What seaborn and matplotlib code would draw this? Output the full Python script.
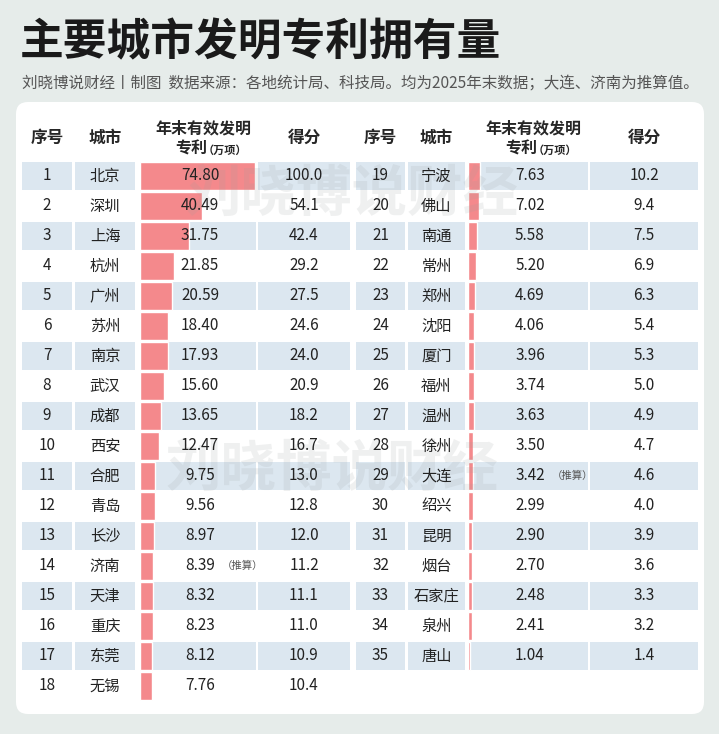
import matplotlib
matplotlib.use("Agg")
import matplotlib.pyplot as plt
import seaborn as sns
import pandas as pd
from matplotlib.patches import FancyBboxPatch, Rectangle

ranks = list(range(1, 36))
cities = ["北京","深圳","上海","杭州","广州","苏州","南京","武汉","成都","西安","合肥","青岛","长沙","济南","天津","重庆","东莞","无锡",
          "宁波","佛山","南通","常州","郑州","沈阳","厦门","福州","温州","徐州","大连","绍兴","昆明","烟台","石家庄","泉州","唐山"]
patents = [74.80,40.49,31.75,21.85,20.59,18.40,17.93,15.60,13.65,12.47,9.75,9.56,8.97,8.39,8.32,8.23,8.12,7.76,
           7.63,7.02,5.58,5.20,4.69,4.06,3.96,3.74,3.63,3.50,3.42,2.99,2.90,2.70,2.48,2.41,1.04]
scores = [100.0,54.1,42.4,29.2,27.5,24.6,24.0,20.9,18.2,16.7,13.0,12.8,12.0,11.2,11.1,11.0,10.9,10.4,
          10.2,9.4,7.5,6.9,6.3,5.4,5.3,5.0,4.9,4.7,4.6,4.0,3.9,3.6,3.3,3.2,1.4]
estimated = {"济南", "大连"}

sns.set_theme(style="white")
plt.rcParams['font.family'] = ['Noto Sans CJK SC', 'DejaVu Sans']

W, H = 719, 734
fig = plt.figure(figsize=(W/100, H/100), dpi=100)
fig.patch.set_facecolor("#e6ecea")

def pix_axes(z):
    a = fig.add_axes([0, 0, 1, 1])
    a.set_xlim(0, W); a.set_ylim(H, 0); a.axis("off")
    a.patch.set_alpha(0); a.set_zorder(z)
    return a

ax = pix_axes(1)    # background: panel and bands
tax = pix_axes(3)   # texts on top

tax.text(20, 42, "主要城市发明专利拥有量", fontsize=31.5, fontweight="bold", color="#1a1a1a", va="center")
tax.text(22, 83, "刘晓博说财经丨制图  数据来源：各地统计局、科技局。均为2025年末数据；大连、济南为推算值。",
         fontsize=11.2, color="#555555", va="center")

ax.add_patch(FancyBboxPatch((16, 102), 688, 612, boxstyle="round,pad=0,rounding_size=12",
                            fc="white", ec="none", zorder=1))

row0, rh = 162, 30.0
band = "#dce7f0"
left_cols = [(22, 72), (75, 135), (140, 256), (258, 350)]
right_cols = [(356, 405), (408, 465), (468, 588), (590, 698)]
bar_col = "#f4898c"

def header(cols):
    tax.text(sum(cols[0])/2, 138, "序号", fontsize=12, fontweight="bold", ha="center", va="center")
    tax.text(sum(cols[1])/2, 138, "城市", fontsize=12, fontweight="bold", ha="center", va="center")
    cx = sum(cols[2])/2 + 5
    tax.text(cx, 128, "年末有效发明", fontsize=11.5, fontweight="bold", ha="center", va="center")
    tax.text(cx - 12, 149, "专利", fontsize=11.5, fontweight="bold", ha="center", va="center")
    tax.text(cx + 22, 150, "（万项）", fontsize=8, fontweight="bold", ha="center", va="center")
    tax.text(sum(cols[3])/2, 138, "得分", fontsize=12, fontweight="bold", ha="center", va="center")

header(left_cols); header(right_cols)

for (x, y) in [(185, 195), (165, 470)]:
    tax.text(x, y, "刘晓博说财经", fontsize=40, fontweight="bold", color="#9aa0a0", alpha=0.15, va="center")

scale = 115 / 74.8
def draw(idx, cols):
    n = len(idx)
    for k, i in enumerate(idx):
        y = row0 + k * rh
        if k % 2 == 0:
            for (a, b) in cols:
                ax.add_patch(Rectangle((a, y), b - a, rh - 2, fc=band, ec="none", zorder=2))
        yc = y + (rh - 2) / 2
        tax.text(sum(cols[0])/2, yc, str(ranks[i]), fontsize=11, ha="center", va="center", color="#222")
        tax.text(sum(cols[1])/2, yc, cities[i], fontsize=11, ha="center", va="center", color="#222")
        tx = sum(cols[2])/2 + 2
        tax.text(tx, yc, f"{patents[i]:.2f}", fontsize=11, ha="center", va="center", color="#222")
        if cities[i] in estimated:
            tax.text(tx + 22, yc, "（推算）", fontsize=7.5, ha="left", va="center", color="#555")
        tax.text(sum(cols[3])/2, yc, f"{scores[i]:.1f}", fontsize=11, ha="center", va="center", color="#222")
    x0, x1 = cols[2]
    top = row0 - 1; bottom = row0 - 1 + n * rh
    bax = fig.add_axes([x0 / W, 1 - bottom / H, (x1 - x0) / W, (bottom - top) / H])
    bax.patch.set_alpha(0); bax.set_zorder(2)
    df = pd.DataFrame({"city": [cities[i] for i in idx], "v": [patents[i] for i in idx]})
    sns.barplot(data=df, y="city", x="v", orient="h", color=bar_col, saturation=1,
                width=(rh - 2) / rh, ax=bax)
    bax.set_xlim(0, (x1 - x0) / scale)
    bax.set_ylim(n - 0.5, -0.5)
    bax.axis("off")

draw(list(range(0, 18)), left_cols)
draw(list(range(18, 35)), right_cols)

fig.savefig("out.png", dpi=100, facecolor=fig.get_facecolor())
